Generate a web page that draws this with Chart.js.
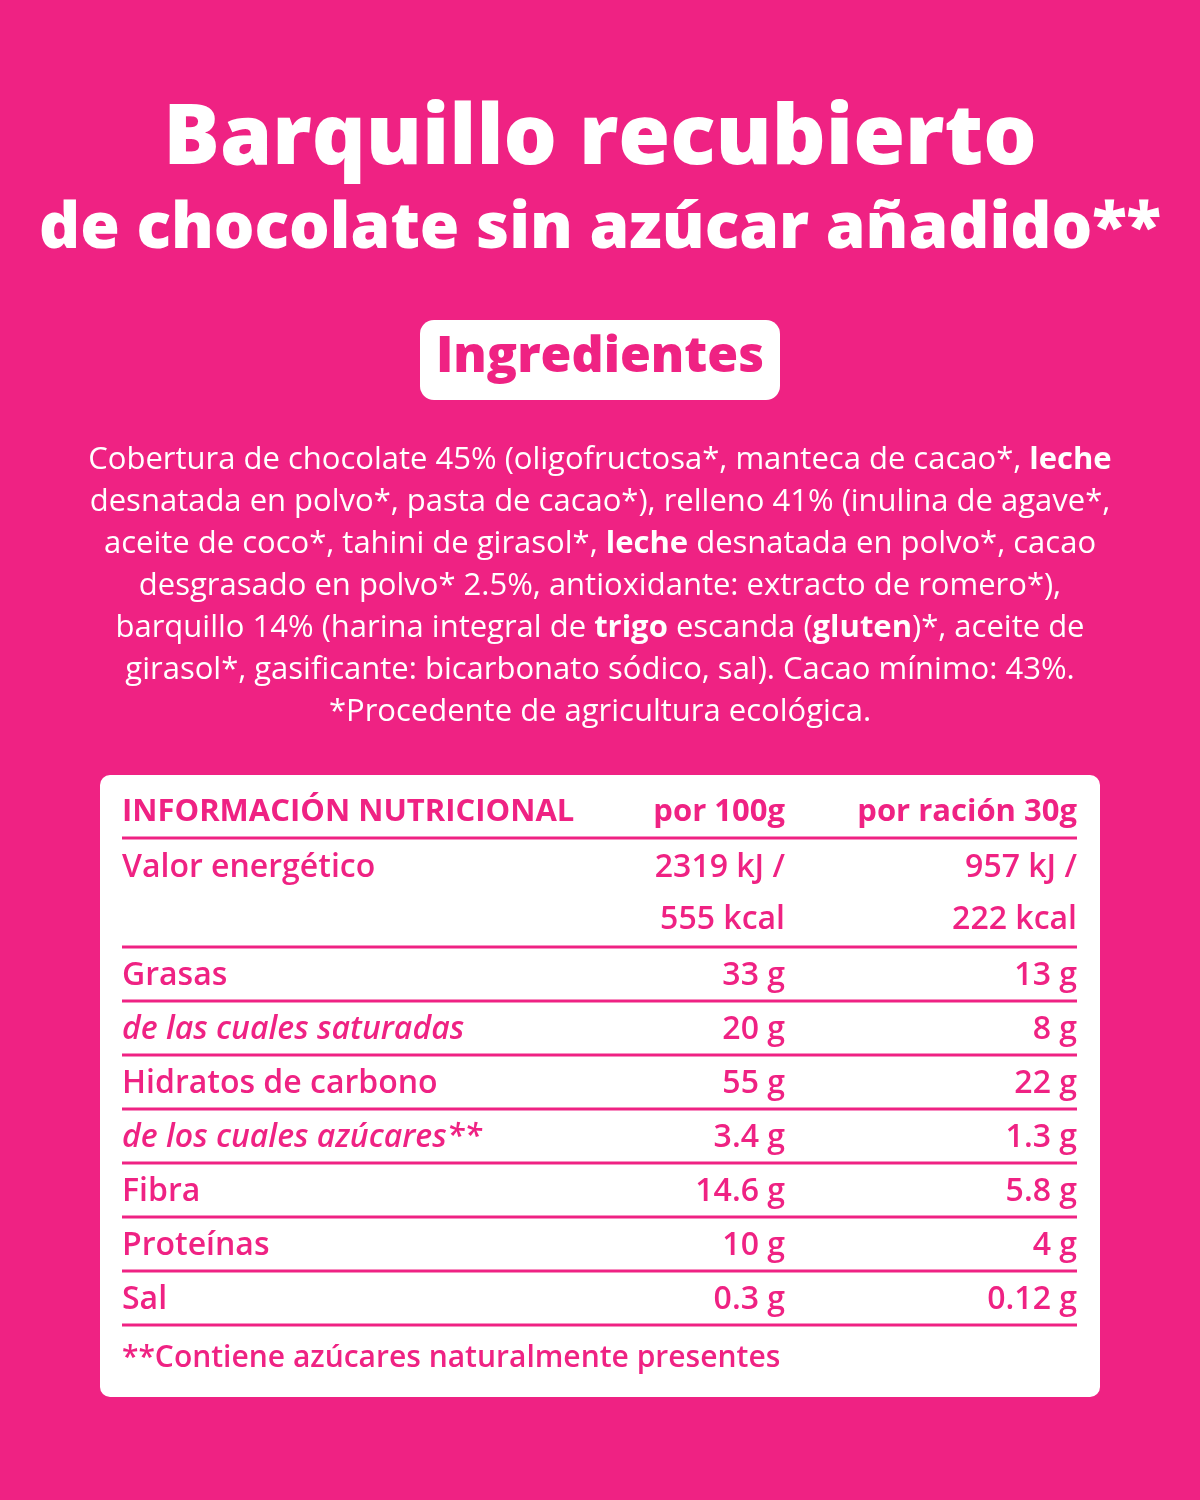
<!DOCTYPE html>
<html>
<head>
<meta charset="utf-8">
<script src="https://cdn.jsdelivr.net/npm/chart.js@4"></script>
<style>
  html, body { margin: 0; padding: 0; background: #EF2283; }
  #wrap { width: 1200px; height: 1500px; position: relative; }
</style>
</head>
<body>
<div id="wrap"><canvas id="label"></canvas></div>
<script>
const PINK = "#EF2283";
const FONT = "'Open Sans', 'Noto Sans', sans-serif";

const titleLines = ["Barquillo recubierto", "de chocolate sin azúcar añadido**"];
const badgeText = "Ingredientes";

// each line: runs of [text, bold]
const ingredientLines = [
    [["Cobertura de chocolate 45% (oligofructosa*, manteca de cacao*, ", 0], ["leche", 1]],
    [["desnatada en polvo*, pasta de cacao*), relleno 41% (inulina de agave*,", 0]],
    [["aceite de coco*, tahini de girasol*, ", 0], ["leche", 1], [" desnatada en polvo*, cacao", 0]],
    [["desgrasado en polvo* 2.5%, antioxidante: extracto de romero*),", 0]],
    [["barquillo 14% (harina integral de ", 0], ["trigo", 1], [" escanda (", 0], ["gluten", 1], [")*, aceite de", 0]],
    [["girasol*, gasificante: bicarbonato sódico, sal). Cacao mínimo: 43%.", 0]],
    [["*Procedente de agricultura ecológica.", 0]]
];

const tableHeader = ["INFORMACIÓN NUTRICIONAL", "por 100g", "por ración 30g"];
const nutrients = ["Valor energético", "Grasas", "de las cuales saturadas", "Hidratos de carbono",
    "de los cuales azúcares**", "Fibra", "Proteínas", "Sal"];
const italicRows = [false, false, true, false, true, false, false, false];
const per100 = [["2319 kJ /", "555 kcal"], ["33 g"], ["20 g"], ["55 g"], ["3.4 g"], ["14.6 g"], ["10 g"], ["0.3 g"]];
const perServing = [["957 kJ /", "222 kcal"], ["13 g"], ["8 g"], ["22 g"], ["1.3 g"], ["5.8 g"], ["4 g"], ["0.12 g"]];
const footnote = "**Contiene azúcares naturalmente presentes";

function roundRect(ctx, x, y, w, h, r) {
    ctx.beginPath();
    ctx.moveTo(x + r, y);
    ctx.arcTo(x + w, y, x + w, y + h, r);
    ctx.arcTo(x + w, y + h, x, y + h, r);
    ctx.arcTo(x, y + h, x, y, r);
    ctx.arcTo(x, y, x + w, y, r);
    ctx.closePath();
    ctx.fill();
}

const labelPlugin = {
    id: "labelPlugin",
    afterDraw(chart) {
        const ctx = chart.ctx;
        ctx.save();
        ctx.fillStyle = PINK;
        ctx.fillRect(0, 0, 1200, 1500);

        // title
        ctx.fillStyle = "#fff";
        ctx.textAlign = "center";
        ctx.textBaseline = "middle";
        ctx.font = "800 84px " + FONT;
        ctx.fillText(titleLines[0], 600, 140);
        ctx.font = "800 64px " + FONT;
        ctx.fillText(titleLines[1], 600, 230);

        // badge
        roundRect(ctx, 420, 320, 360, 80, 14);
        ctx.fillStyle = PINK;
        ctx.font = "800 50px " + FONT;
        ctx.fillText(badgeText, 600, 358);

        // ingredients paragraph
        ctx.textAlign = "left";
        ctx.fillStyle = "#fff";
        ingredientLines.forEach((runs, i) => {
            let w = 0;
            runs.forEach(([t, b]) => { ctx.font = (b ? "700 " : "400 ") + "31px " + FONT; w += ctx.measureText(t).width; });
            let x = 600 - w / 2;
            const y = 460 + i * 42;
            runs.forEach(([t, b]) => {
                ctx.font = (b ? "700 " : "400 ") + "31px " + FONT;
                ctx.fillText(t, x, y);
                x += ctx.measureText(t).width;
            });
        });

        // table
        ctx.fillStyle = "#fff";
        roundRect(ctx, 100, 775, 1000, 622, 10);
        ctx.fillStyle = PINK;
        ctx.strokeStyle = PINK;
        ctx.lineWidth = 3;
        const L = 122, C2 = 785, C3 = 1077;
        const line = y => { ctx.beginPath(); ctx.moveTo(L, y); ctx.lineTo(C3, y); ctx.stroke(); };

        ctx.font = "700 31px " + FONT;
        ctx.textAlign = "left";
        ctx.fillText(tableHeader[0], L, 812);
        ctx.textAlign = "right";
        ctx.fillText(tableHeader[1], C2, 812);
        ctx.fillText(tableHeader[2], C3, 812);
        line(838);

        let y = 868;
        nutrients.forEach((name, i) => {
            ctx.font = (italicRows[i] ? "italic 600 " : "600 ") + "32px " + FONT;
            ctx.textAlign = "left";
            ctx.fillText(name, L, y + (i === 0 ? 0 : 2));
            ctx.font = "600 32px " + FONT;
            ctx.textAlign = "right";
            per100[i].forEach((v, k) => ctx.fillText(v, C2, y + k * 52 + (i === 0 ? 0 : 2)));
            perServing[i].forEach((v, k) => ctx.fillText(v, C3, y + k * 52 + (i === 0 ? 0 : 2)));
            const bottom = y + (per100[i].length - 1) * 52 + 27;
            line(bottom);
            y = bottom + 27;
        });

        ctx.textAlign = "left";
        ctx.font = "600 30px " + FONT;
        ctx.fillText(footnote, L, 1358);
        ctx.restore();
    }
};

new Chart(document.getElementById("label"), {
    type: "bar",
    data: { labels: nutrients, datasets: [{ data: [] }] },
    options: {
        responsive: true,
        maintainAspectRatio: false,
        animation: false,
        events: [],
        plugins: { legend: { display: false }, tooltip: { enabled: false } },
        scales: { x: { display: false }, y: { display: false } }
    },
    plugins: [labelPlugin]
});
</script>
</body>
</html>
